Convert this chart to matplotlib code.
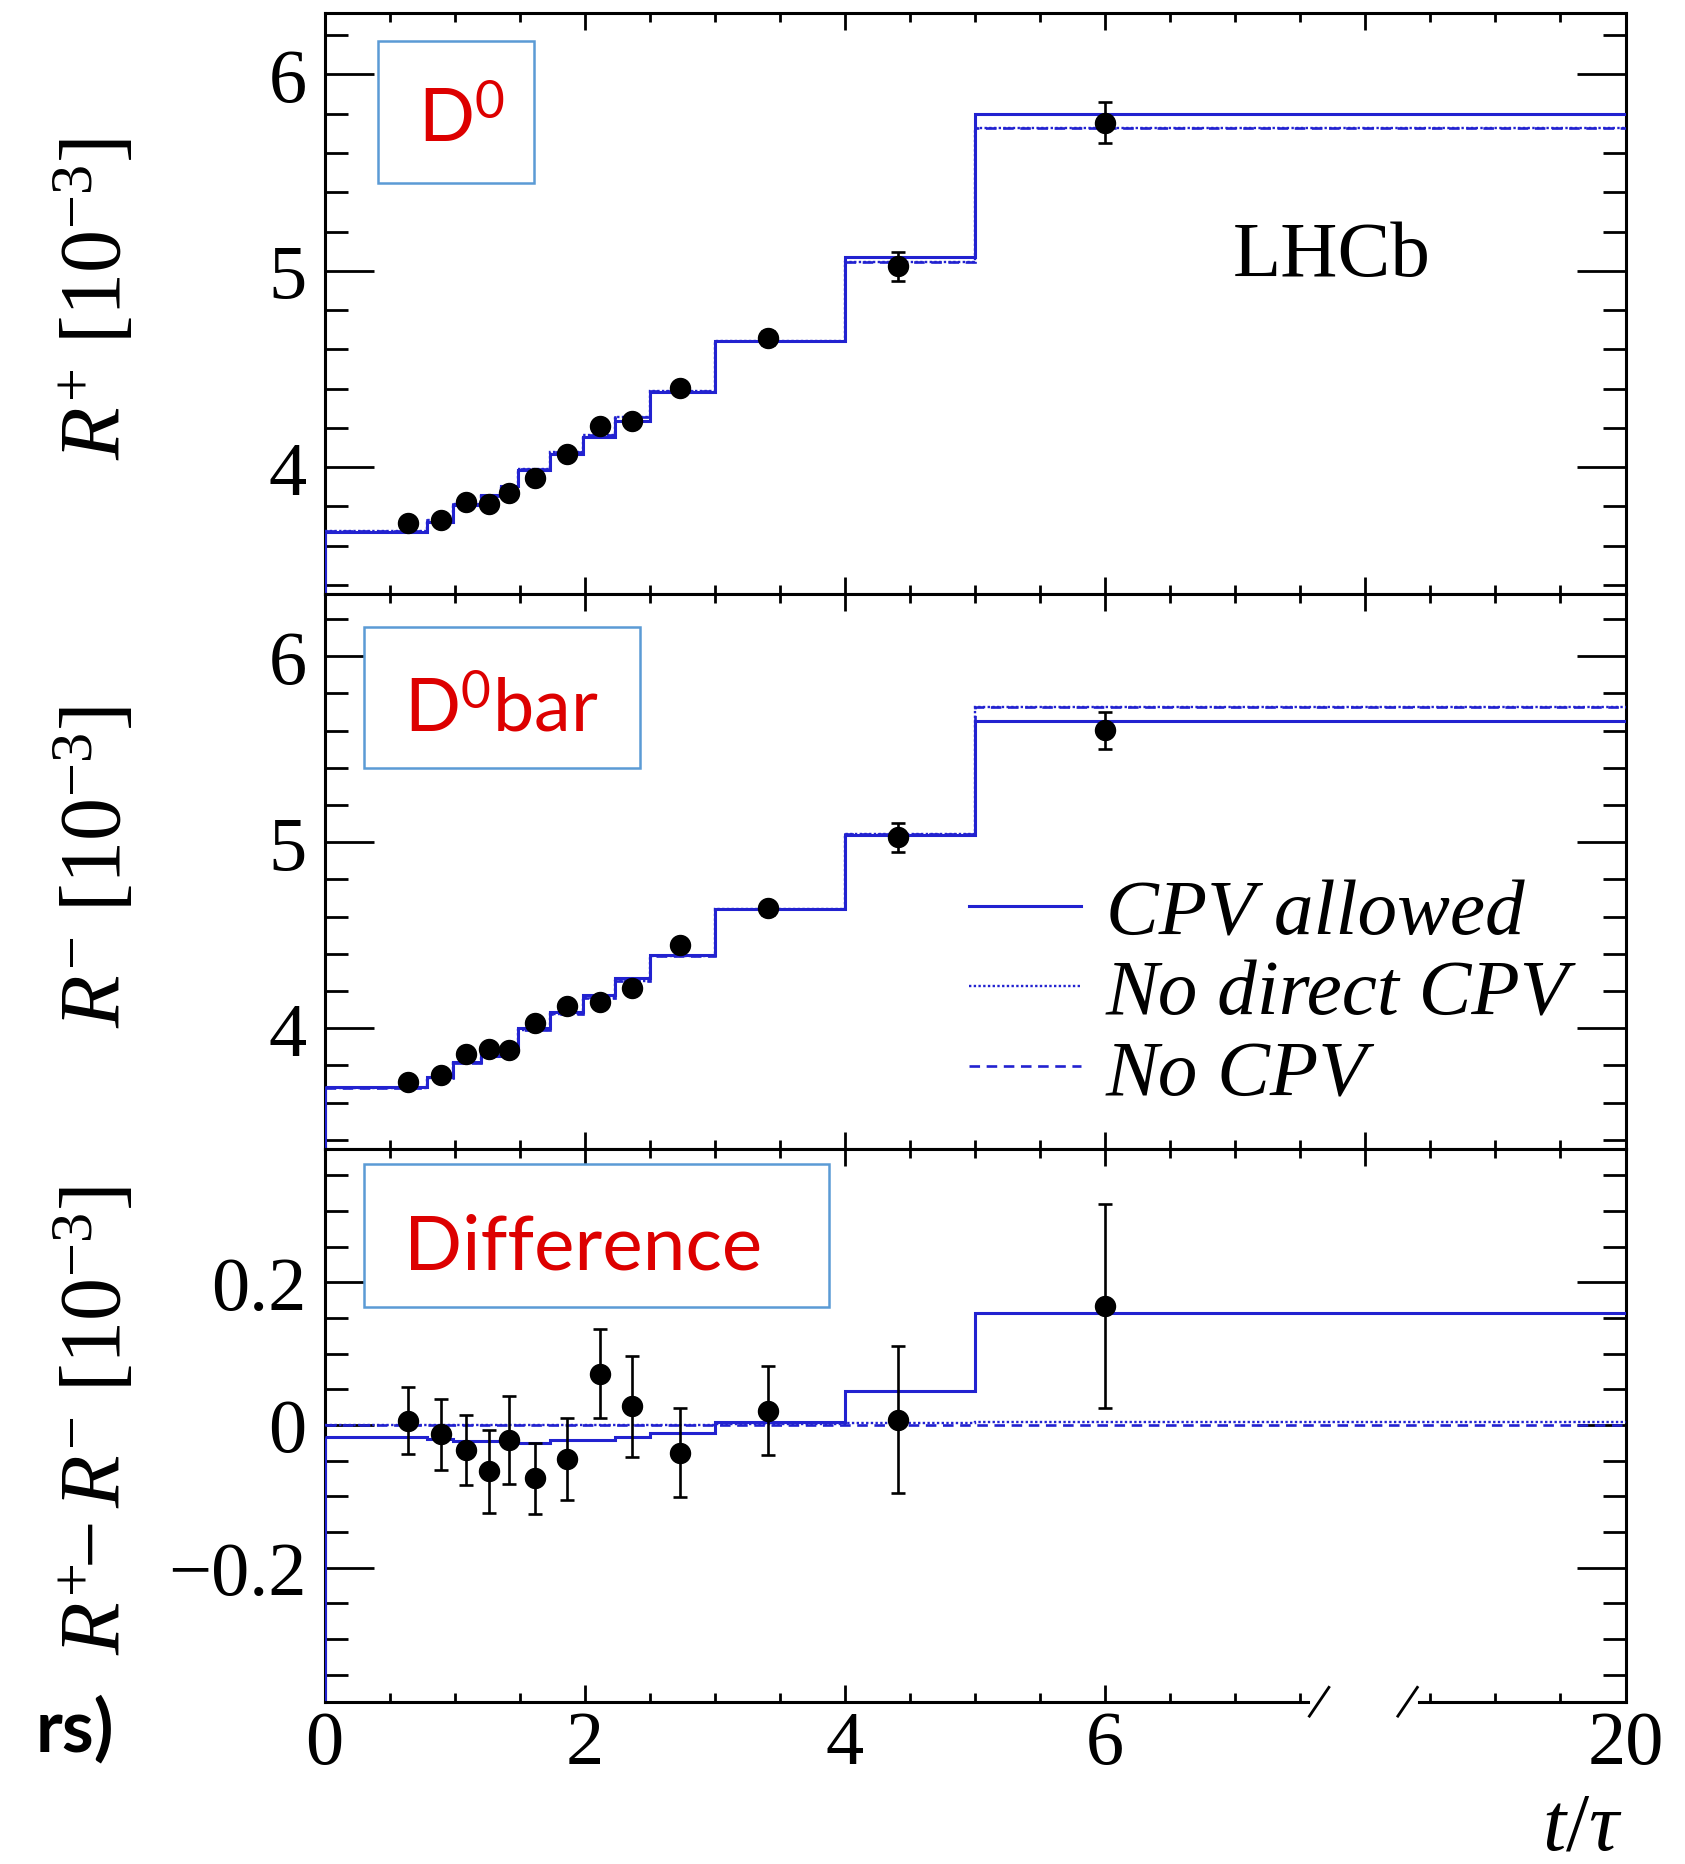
import numpy as np
import matplotlib.pyplot as plt
from matplotlib.lines import Line2D
from matplotlib.patches import Rectangle

plt.rcParams['font.family'] = ['Liberation Serif', 'DejaVu Serif']
plt.rcParams['mathtext.fontset'] = 'custom'
plt.rcParams['mathtext.rm'] = 'Liberation Serif'
plt.rcParams['mathtext.it'] = 'Liberation Serif:italic'
plt.rcParams['mathtext.sf'] = 'Lato'

# decay-time bins (t/tau) and measured points
edges = [0, 0.79, 0.99, 1.20, 1.36, 1.49, 1.73, 1.99, 2.23, 2.50, 3.0, 4.0, 5.0, 20]
t_pts = [0.645, 0.895, 1.088, 1.267, 1.416, 1.614, 1.863, 2.115, 2.364, 2.734, 3.41, 4.41, 6.0]

rplus = [3.713, 3.731, 3.824, 3.812, 3.866, 3.945, 4.066, 4.211, 4.235, 4.405, 4.659, 5.022, 5.754]
rplus_err = [0.025, 0.025, 0.025, 0.025, 0.025, 0.025, 0.027, 0.027, 0.03, 0.03, 0.035, 0.076, 0.105]
rminus = [3.709, 3.749, 3.859, 3.888, 3.885, 4.028, 4.122, 4.142, 4.215, 4.447, 4.645, 5.025, 5.602]
rminus_err = [0.025, 0.025, 0.025, 0.025, 0.025, 0.025, 0.027, 0.027, 0.03, 0.03, 0.035, 0.078, 0.10]
rdiff = [0.006, -0.013, -0.035, -0.065, -0.021, -0.075, -0.048, 0.072, 0.026, -0.039, 0.020, 0.007, 0.166]
rdiff_err = [0.047, 0.050, 0.049, 0.058, 0.062, 0.050, 0.057, 0.062, 0.071, 0.062, 0.062, 0.103, 0.143]

# fit projections per bin
rplus_cpv = [3.669, 3.722, 3.805, 3.856, 3.906, 3.983, 4.068, 4.153, 4.237, 4.382, 4.642, 5.070, 5.800]
rminus_cpv = [3.683, 3.740, 3.821, 3.853, 3.880, 4.001, 4.087, 4.177, 4.271, 4.392, 4.640, 5.038, 5.652]
rdiff_cpv = [-0.017, -0.020, -0.022, -0.023, -0.023, -0.025, -0.021, -0.021, -0.017, -0.012, 0.004, 0.047, 0.157]

rplus_nodcpv = [3.676, 3.731, 3.813, 3.855, 3.893, 3.992, 4.078, 4.165, 4.254, 4.387, 4.641, 5.046, 5.728]
rminus_nodcpv = [3.676, 3.731, 3.813, 3.855, 3.893, 3.992, 4.078, 4.165, 4.254, 4.387, 4.640, 5.044, 5.724]
rdiff_nodcpv = [0.0, 0.0, 0.0, 0.0, 0.0, 0.0, 0.0, 0.0, 0.0, 0.0, 0.001, 0.002, 0.004]

rplus_nocpv = [3.676, 3.731, 3.813, 3.855, 3.893, 3.992, 4.078, 4.165, 4.254, 4.387, 4.640, 5.045, 5.726]
rminus_nocpv = [3.676, 3.731, 3.813, 3.855, 3.893, 3.992, 4.078, 4.165, 4.254, 4.387, 4.640, 5.045, 5.726]
rdiff_nocpv = [0.0] * 13

BLUE = '#2222d0'
RED = '#dd0000'
BOXC = '#5b9bd5'

W, H = 1685, 1865
fig = plt.figure(figsize=(W / 100, H / 100), dpi=100)


def px(x, y):
    return x / W, 1 - y / H


# broken time axis: linear up to 7.6, then jump to the 18.4-20 stretch
T_KNOTS = [-100, 0, 7.6, 18.4, 20, 120]
U_KNOTS = [-100, 0, 7.6, 8.4, 10, 110]


def fwd(t):
    return np.interp(t, T_KNOTS, U_KNOTS)


def inv(u):
    return np.interp(u, U_KNOTS, T_KNOTS)


left, width = 0.1926, 0.7721
ax_p = fig.add_axes([left, 0.6812, width, 0.3111])
ax_m = fig.add_axes([left, 0.3835, width, 0.2977])
ax_d = fig.add_axes([left, 0.0870, width, 0.2965])

panels = [
    (ax_p, rplus, rplus_err, rplus_cpv, rplus_nodcpv, rplus_nocpv, (3.356, 6.311)),
    (ax_m, rminus, rminus_err, rminus_cpv, rminus_nodcpv, rminus_nocpv, (3.352, 6.336)),
    (ax_d, rdiff, rdiff_err, rdiff_cpv, rdiff_nodcpv, rdiff_nocpv, (-0.388, 0.387)),
]

DASHED = (0, (4, 2.5))
DOTTED = (0, (1, 1))

major_u = np.arange(0, 10.01, 2)
minor_u = np.arange(0, 10.01, 0.5)

for ax, vals, errs, cpv, nodcpv, nocpv, ylim in panels:
    ax.set_xscale('function', functions=(fwd, inv))
    ax.set_xlim(0, 20)
    ax.set_ylim(*ylim)
    ax.stairs(nocpv, edges, baseline=None, color=BLUE, lw=1.9, ls=DASHED, zorder=3)
    ax.stairs(nodcpv, edges, baseline=None, color=BLUE, lw=1.7, ls=DOTTED, zorder=3)
    ax.stairs(cpv, edges, baseline=None, color=BLUE, lw=2.2, zorder=3)
    ax.vlines(edges[0], ylim[0], cpv[0], color=BLUE, lw=2.2, zorder=3)
    ax.errorbar(t_pts, vals, yerr=errs, fmt='o', color='black', ms=14.4,
                elinewidth=1.9, capsize=4.7, capthick=1.9, zorder=5)
    for s in ax.spines.values():
        s.set_linewidth(2.2)
    ax.tick_params(axis='y', which='both', direction='in', left=True, right=True,
                   width=2.0, labelsize=55, pad=13)
    ax.tick_params(axis='y', which='major', length=35)
    ax.tick_params(axis='y', which='minor', length=16.5)

for ax in (ax_p, ax_m):
    ax.set_xticks(inv(major_u))
    ax.set_xticks(inv(minor_u), minor=True)
    ax.tick_params(axis='x', which='both', direction='in', top=True, bottom=True,
                   labelbottom=False, width=2.0)
    ax.tick_params(axis='x', which='major', length=12)
    ax.tick_params(axis='x', which='minor', length=6.5)
    ax.set_yticks([4, 5, 6], labels=['4', '5', '6'])
    ax.set_yticks(np.arange(3.4, 6.31, 0.2), minor=True)

ax_d.set_yticks([-0.2, 0, 0.2], labels=['\u22120.2', '0', '0.2'])
ax_d.set_yticks(np.arange(-0.35, 0.36, 0.05), minor=True)

# top ticks of the difference panel run evenly across the full width
ax_dt = ax_d.twiny()
ax_dt.set_xscale('function', functions=(fwd, inv))
ax_dt.set_xlim(0, 20)
ax_dt.set_xticks(inv(major_u))
ax_dt.set_xticks(inv(minor_u), minor=True)
ax_dt.tick_params(axis='x', which='both', direction='in', top=True, bottom=False,
                  labeltop=False, width=2.0)
ax_dt.tick_params(axis='x', which='major', length=12)
ax_dt.tick_params(axis='x', which='minor', length=6.5)
for s in ax_dt.spines.values():
    s.set_visible(False)

ax_d.set_xticks([0, 2, 4, 6, 20], labels=['0', '2', '4', '6', '20'])
ax_d.set_xticks([0.5, 1, 1.5, 2.5, 3, 3.5, 4.5, 5, 5.5, 6.5, 7, 7.5, 18.5, 19, 19.5], minor=True)
ax_d.tick_params(axis='x', which='both', direction='in', top=False, bottom=True,
                 width=2.0, labelsize=55, pad=6)
ax_d.tick_params(axis='x', which='major', length=12)
ax_d.tick_params(axis='x', which='minor', length=6.5)

# bottom spine with the axis break
ax_d.spines['bottom'].set_visible(False)
xt = ax_d.get_xaxis_transform()
ax_d.plot([0, 7.56], [0, 0], color='black', lw=2.2, transform=xt, clip_on=False, zorder=6)
ax_d.plot([18.41, 20], [0, 0], color='black', lw=2.2, transform=xt, clip_on=False, zorder=6)
for x0 in (0.757, 0.825):
    ax_d.plot([x0, x0 + 0.015], [-0.026, 0.026], color='black', lw=2.0,
              transform=ax_d.transAxes, clip_on=False, zorder=6)

# axis titles
ax_p.set_ylabel(r'$R^{+}$ [$10^{-3}$]', fontsize=62)
ax_m.set_ylabel(r'$R^{-}$ [$10^{-3}$]', fontsize=62)
ax_d.set_ylabel(r'$R^{+}\!\!-R^{-}$ [$10^{-3}$]', fontsize=62)
for ax in (ax_p, ax_m, ax_d):
    ax.yaxis.set_label_coords(-0.142, 0.51)

fig.text(*px(1623, 1850), r'$t/\tau$', fontsize=60, ha='right', va='baseline')
fig.text(*px(1332, 276), 'LHCb', fontsize=57, ha='center', va='baseline')

handles = [Line2D([], [], color=BLUE, lw=2.2),
           Line2D([], [], color=BLUE, lw=1.7, ls=DOTTED),
           Line2D([], [], color=BLUE, lw=1.9, ls=DASHED)]
ax_m.legend(handles, ['CPV allowed', 'No direct CPV', 'No CPV'],
            loc='upper left', bbox_to_anchor=px(969, 879), bbox_transform=fig.transFigure,
            frameon=False, borderpad=0, borderaxespad=0, handlelength=1.41,
            handletextpad=0.32, labelspacing=0.10,
            prop=dict(family='Liberation Serif', style='italic', size=57))

# labelled boxes
boxes = [(378, 42, 534, 184), (364, 628, 640, 769), (364, 1165, 829, 1308)]
for x0, y0, x1, y1 in boxes:
    fig.add_artist(Rectangle(px(x0, y1), (x1 - x0) / W, (y1 - y0) / H,
                             transform=fig.transFigure, fc='white', ec=BOXC, lw=1.8))
fig.text(*px(418, 142), r'$\mathsf{D}^{\mathsf{0}}$', color=RED, fontsize=53, va='baseline')
fig.text(*px(404, 731), r'$\mathsf{D}^{\mathsf{0}}\mathsf{bar}$', color=RED, fontsize=53, va='baseline')
fig.text(*px(404, 1270), 'Difference', color=RED, fontsize=55, family='Lato', va='baseline')

fig.text(*px(36, 1730), 'rs)', fontsize=52, family='Lato', fontweight='bold', ha='left', va='center')

fig.savefig('out.png', dpi=100)
